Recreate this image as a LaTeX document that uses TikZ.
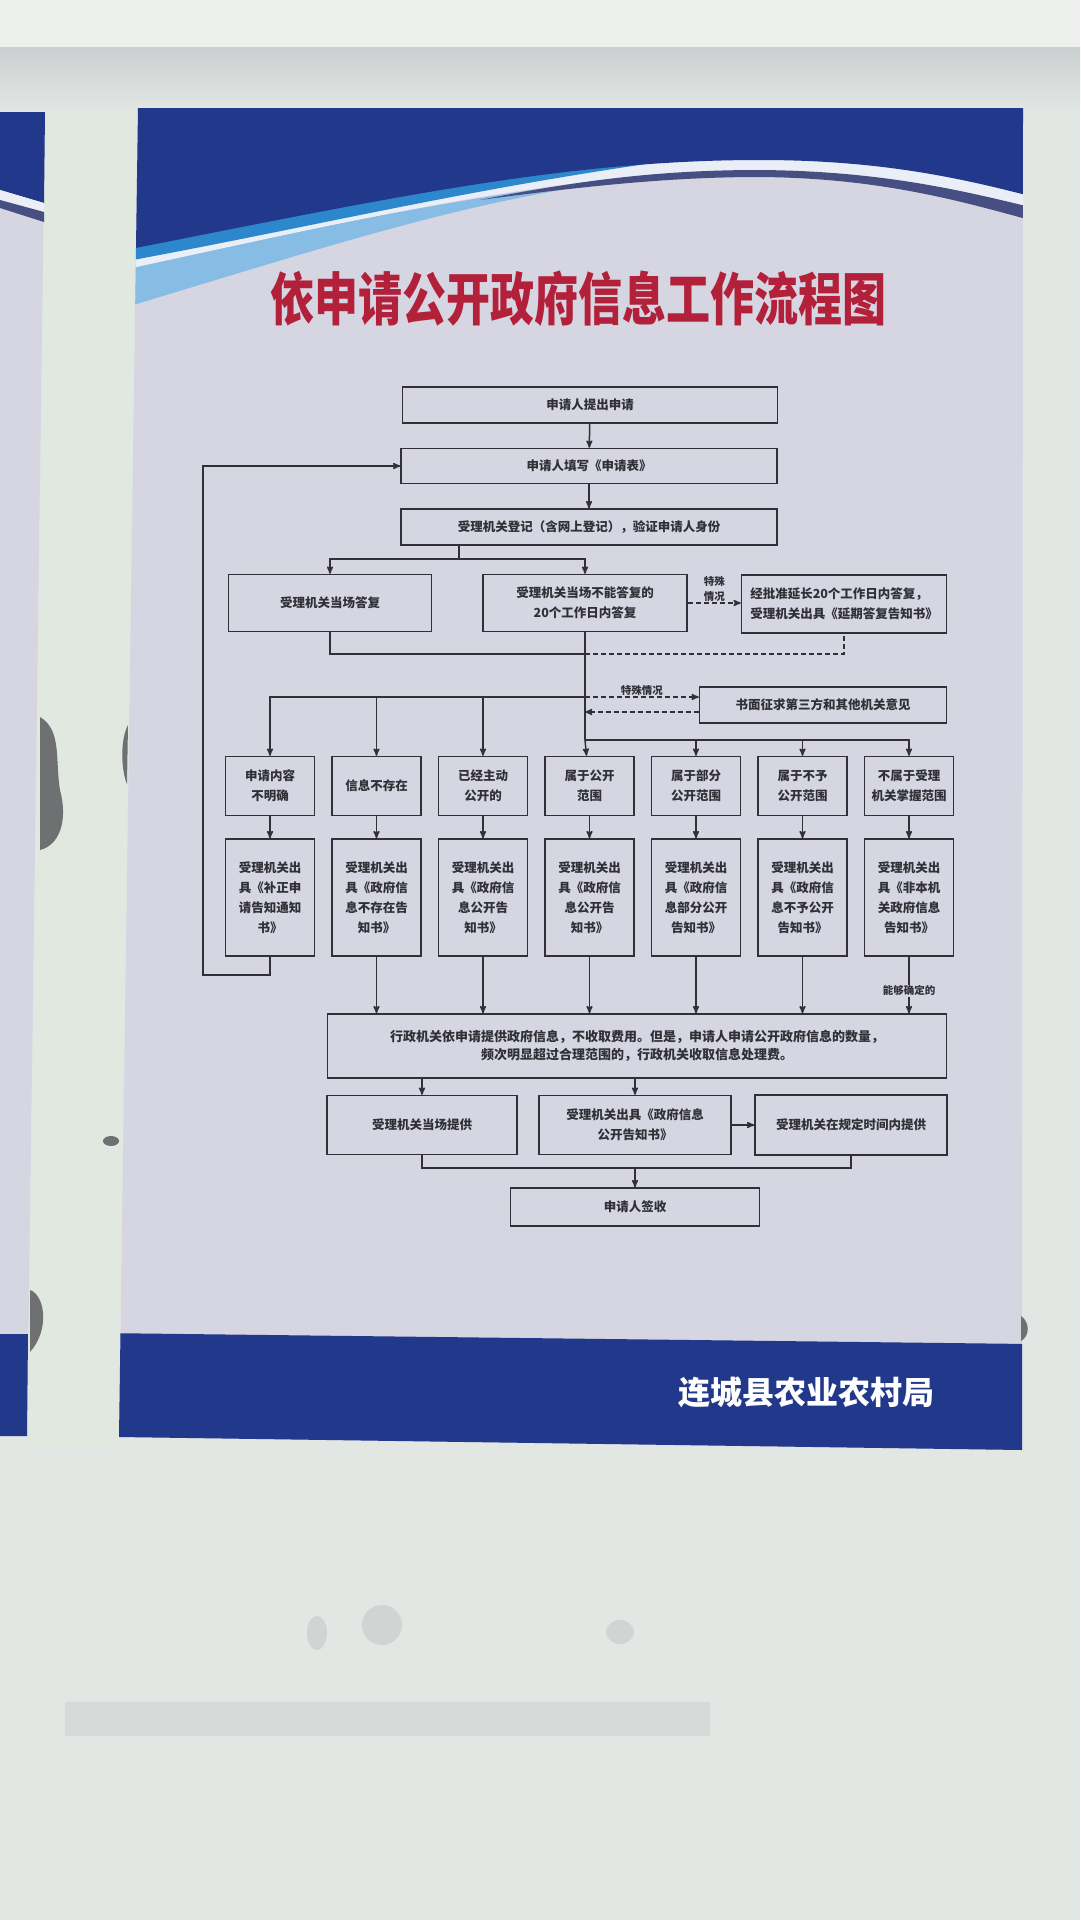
\documentclass[tikz,border=0pt]{standalone}
\usepackage{fontspec}
\setmainfont{Noto Sans CJK SC}
\usetikzlibrary{arrows}
\usetikzlibrary{positioning}
\definecolor{wall}{RGB}{226,231,228}
\definecolor{walltop}{RGB}{238,240,238}
\definecolor{ledge}{RGB}{203,207,208}
\definecolor{column}{RGB}{224,232,224}
\definecolor{body}{RGB}{214,214,227}
\definecolor{navy}{RGB}{34,56,138}
\definecolor{cyanband}{RGB}{45,135,205}
\definecolor{sky}{RGB}{135,188,228}
\definecolor{ribbon}{RGB}{234,238,247}
\definecolor{rule}{RGB}{70,78,130}
\definecolor{ink}{RGB}{48,48,54}
\definecolor{titlered}{RGB}{178,32,58}
\definecolor{stain}{RGB}{110,112,114}
\definecolor{smudge}{RGB}{208,212,211}
\tikzset{
  >=stealth',
  node distance = 16pt,
  stage/.style = {draw=ink, line width=1.5pt, text=ink, align=center, inner sep=2pt,
    font=\bfseries\fontsize{12.5}{20}\selectfont},
  tallstage/.style = {stage, minimum width=89pt},
  link/.style = {draw=ink, line width=1.5pt},
  dlink/.style = {link, dash pattern=on 5pt off 3pt},
  note/.style = {font=\bfseries\fontsize{10.5}{15}\selectfont, text=ink, inner sep=1pt, align=center},
}
\begin{document}
\begin{tikzpicture}[x=1pt, y=-1pt]
  \useasboundingbox (0,0) rectangle (1080,1920);
  % wall
  \fill[wall] (0,0) rectangle (1080,1920);
  \fill[column] (45,112) -- (138,112) -- (119,1450) -- (27,1450) -- cycle;
  \shade[top color=ledge, bottom color=wall] (0,47) rectangle (1080,112);
  \fill[walltop] (0,0) rectangle (1080,47);
  \fill[smudge, opacity=.7] (65,1702) rectangle (710,1736);
  \fill[smudge] (317,1633) ellipse [x radius=10pt, y radius=17pt];
  \fill[smudge] (382,1625) ellipse [x radius=20pt, y radius=20pt];
  \fill[smudge] (620,1632) ellipse [x radius=14pt, y radius=12pt];
  % neighbour poster
  \fill[body] (0,112) -- (45,112) -- (27,1436) -- (0,1436) -- cycle;
  \fill[navy] (0,112) -- (45,112) -- (44,203) -- (0,190) -- cycle;
  \fill[ribbon] (0,190) -- (44,203) -- (44,212) -- (0,200) -- cycle;
  \fill[rule] (0,200) -- (44,212) -- (44,222) -- (0,208) -- cycle;
  \fill[navy] (0,1334) -- (28,1334) -- (27,1436) -- (0,1436) -- cycle;
  \fill[stain] (40,717) .. controls (62,730) and (55,760) .. (60,790)
    .. controls (68,820) and (60,845) .. (40,850) -- cycle;
  \fill[stain] (30,1290) .. controls (45,1295) and (50,1330) .. (30,1352) -- cycle;
  \fill[stain] (111,1141) ellipse [x radius=8pt, y radius=5pt];
  % main poster
  \fill[body] (138,108) -- (1023,108) -- (1022,1450) -- (119,1437) -- cycle;
  \fill[stain] (128,725) .. controls (120,740) and (121,770) .. (127,784) -- cycle;
  \begin{scope}
    \clip (138,108) -- (1023,108) -- (1022,1450) -- (119,1437) -- cycle;
    \fill[sky] (100,270) .. controls (300,232) and (420,205) .. (560,186)
      -- (560,190) .. controls (420,215) and (300,255) .. (100,315) -- cycle;
    \fill[ribbon] (100,250) .. controls (380,195) and (560,155) .. (760,155)
      .. controls (880,155) and (960,175) .. (1030,190) -- (1030,208)
      .. controls (960,190) and (880,172) .. (760,171)
      .. controls (560,172) and (380,214) .. (100,275) -- cycle;
    \fill[rule] (480,200) .. controls (600,176) and (680,170) .. (760,170)
      .. controls (880,171) and (960,190) .. (1030,207) -- (1030,220)
      .. controls (960,201) and (880,178) .. (760,177)
      .. controls (680,177) and (600,184) .. (480,200) -- cycle;
    \fill[cyanband] (100,250) .. controls (300,210) and (450,180) .. (660,162)
      .. controls (450,192) and (300,230) .. (100,266) -- cycle;
    \fill[navy] (100,100) -- (1030,100) -- (1030,196)
      .. controls (960,178) and (880,160) .. (760,160)
      .. controls (560,160) and (380,200) .. (100,255) -- cycle;
    \fill[navy] (100,1333) -- (1030,1344) -- (1030,1460) -- (100,1460) -- cycle;
  \end{scope}
  \fill[stain] (1021,1316) .. controls (1030,1322) and (1030,1336) .. (1021,1341) -- cycle;
  % title and footer
  \node[font=\bfseries\fontsize{44}{44}\selectfont, text=titlered] (title) at (578,299)
    {\scalebox{1}[1.3]{依申请公开政府信息工作流程图}};
  \node[font=\bfseries\fontsize{32}{32}\selectfont, text=white] (org) at (806,1392)
    {连城县农业农村局};
  % flow chart
  \node[stage, minimum width=375pt, minimum height=36pt] (apply) at (590,405) {申请人提出申请};
  \node[stage, minimum width=376pt, minimum height=35pt] (form) at (589,466) {申请人填写《申请表》};
  \node[stage, minimum width=376pt, minimum height=36pt] (check) at (589,527)
    {受理机关登记（含网上登记），验证申请人身份};
  \node[stage, minimum width=203pt, minimum height=57pt] (reply) at (330,603) {受理机关当场答复};
  \node[stage, minimum width=204pt, minimum height=57pt] (defer) at (585,603)
    {受理机关当场不能答复的\\20个工作日内答复};
  \node[stage, minimum width=205pt, minimum height=58pt, align=left] (extend) at (844,604)
    {经批准延长20个工作日内答复，\\受理机关出具《延期答复告知书》};
  \node[stage, minimum width=247pt, minimum height=36pt] (third) at (823,705)
    {书面征求第三方和其他机关意见};
  \node[tallstage, minimum height=59pt] (a1) at (270,786) {申请内容\\不明确};
  \node[tallstage, minimum height=59pt, right=of a1] (a2) {信息不存在};
  \node[tallstage, minimum height=59pt, right=of a2] (a3) {已经主动\\公开的};
  \node[tallstage, minimum height=59pt, right=of a3] (a4) {属于公开\\范围};
  \node[tallstage, minimum height=59pt, right=of a4] (a5) {属于部分\\公开范围};
  \node[tallstage, minimum height=59pt, right=of a5] (a6) {属于不予\\公开范围};
  \node[tallstage, minimum height=59pt, right=of a6] (a7) {不属于受理\\机关掌握范围};
  \node[tallstage, minimum height=117pt, below=22pt of a1] (b1) {受理机关出\\具《补正申\\请告知通知\\书》};
  \node[tallstage, minimum height=117pt, below=22pt of a2] (b2) {受理机关出\\具《政府信\\息不存在告\\知书》};
  \node[tallstage, minimum height=117pt, below=22pt of a3] (b3) {受理机关出\\具《政府信\\息公开告\\知书》};
  \node[tallstage, minimum height=117pt, below=22pt of a4] (b4) {受理机关出\\具《政府信\\息公开告\\知书》};
  \node[tallstage, minimum height=117pt, below=22pt of a5] (b5) {受理机关出\\具《政府信\\息部分公开\\告知书》};
  \node[tallstage, minimum height=117pt, below=22pt of a6] (b6) {受理机关出\\具《政府信\\息不予公开\\告知书》};
  \node[tallstage, minimum height=117pt, below=22pt of a7] (b7) {受理机关出\\具《非本机\\关政府信息\\告知书》};
  \node[stage, minimum width=619pt, minimum height=64pt, font=\bfseries\fontsize{13}{18}\selectfont] (grant) at (637,1046)
    {行政机关依申请提供政府信息，不收取费用。但是，申请人申请公开政府信息的数量，\\
     频次明显超过合理范围的，行政机关收取信息处理费。};
  \node[stage, minimum width=190pt, minimum height=59pt] (onsite) at (422,1125) {受理机关当场提供};
  \node[stage, minimum width=192pt, minimum height=59pt] (notice) at (635,1125)
    {受理机关出具《政府信息\\公开告知书》};
  \node[stage, minimum width=192pt, minimum height=60pt] (later) at (851,1125) {受理机关在规定时间内提供};
  \node[stage, minimum width=249pt, minimum height=38pt] (sign) at (635,1207) {申请人签收};
  \coordinate (split) at (459,559);
  \coordinate (back) at (585,654);
  \coordinate (left) at (585,697);
  \coordinate (answer) at (585,712);
  \coordinate (fork) at (585,740);
  \coordinate (loop) at (203,975);
  \coordinate (merge) at (635,1168);
  \draw[link, ->] (apply) -- (form);
  \draw[link, ->] (form) -- (check);
  \draw[link] (check.south -| split) -- (split);
  \draw[link, ->] (split) -| (reply);
  \draw[link, ->] (split) -| (defer);
  \draw[dlink, ->] (defer.east) -- node[note, above] {特殊\\情况} (defer.east -| extend.west);
  \draw[link] (reply.south) |- (back);
  \draw[dlink] (back) -| (extend.south);
  \draw[link] (defer.south) -- (fork);
  \draw[link, ->] (left) -| (a1);
  \draw[link, ->] (left) -| (a2);
  \draw[link, ->] (left) -| (a3);
  \draw[dlink, ->] (left) -- node[note, above] {特殊情况} (left -| third.west);
  \draw[dlink, ->] (answer -| third.west) -- (answer);
  \draw[link, ->] (fork) -- (a4);
  \draw[link, ->] (fork) -| (a5);
  \draw[link, ->] (fork) -| (a6);
  \draw[link, ->] (fork) -| (a7);
  \draw[link, ->] (a1) -- (b1);
  \draw[link, ->] (a2) -- (b2);
  \draw[link, ->] (a3) -- (b3);
  \draw[link, ->] (a4) -- (b4);
  \draw[link, ->] (a5) -- (b5);
  \draw[link, ->] (a6) -- (b6);
  \draw[link, ->] (a7) -- (b7);
  \draw[link, ->] (b1.south) |- (loop) |- (form.west);
  \draw[link, ->] (b2.south) -- (b2.south |- grant.north);
  \draw[link, ->] (b3.south) -- (b3.south |- grant.north);
  \draw[link, ->] (b4.south) -- (b4.south |- grant.north);
  \draw[link, ->] (b5.south) -- (b5.south |- grant.north);
  \draw[link, ->] (b6.south) -- (b6.south |- grant.north);
  \draw[link, ->] (b7.south) -- node[note, fill=body, pos=.6] {能够确定的} (b7.south |- grant.north);
  \draw[link, ->] (grant.south -| onsite) -- (onsite);
  \draw[link, ->] (grant.south -| notice) -- (notice);
  \draw[link, ->] (notice) -- (later);
  \draw[link] (onsite.south) |- (merge) -| (later.south);
  \draw[link, ->] (merge) -- (sign);
\end{tikzpicture}
\end{document}
